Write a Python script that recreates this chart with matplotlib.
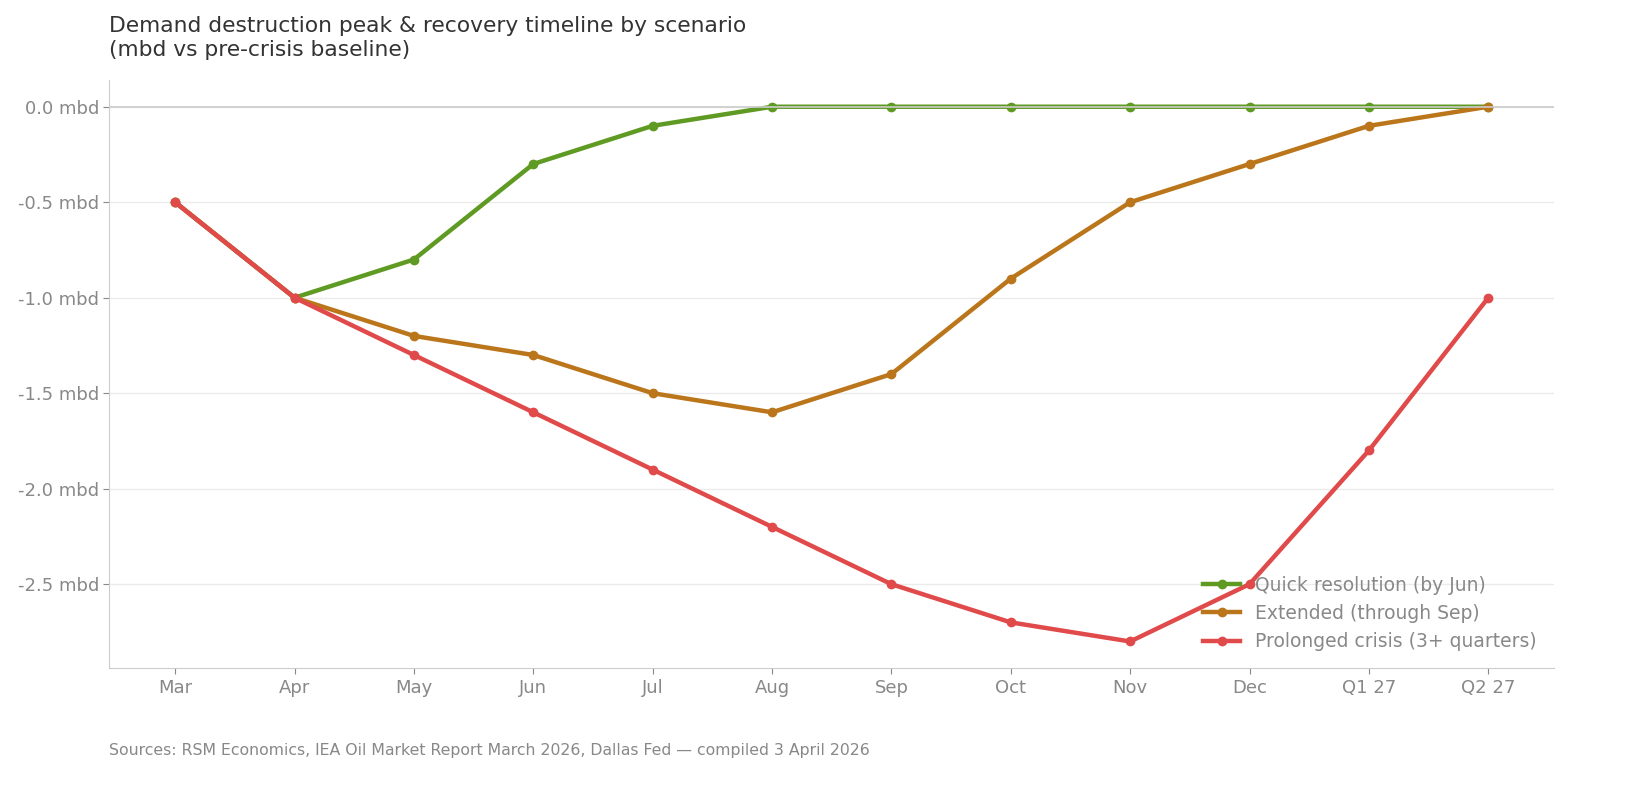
import matplotlib.pyplot as plt
import numpy as np

# Data
months = ["Mar", "Apr", "May", "Jun", "Jul", "Aug", "Sep", "Oct", "Nov", "Dec", "Q1 27", "Q2 27"]
quick = [-0.5, -1.0, -0.8, -0.3, -0.1, 0.0, 0.0, 0.0, 0.0, 0.0, 0.0, 0.0]
extended = [-0.5, -1.0, -1.2, -1.3, -1.5, -1.6, -1.4, -0.9, -0.5, -0.3, -0.1, 0.0]
prolonged = [-0.5, -1.0, -1.3, -1.6, -1.9, -2.2, -2.5, -2.7, -2.8, -2.5, -1.8, -1.0]

series = [
    ("Quick resolution (by Jun)", quick, "#5f9a23"),
    ("Extended (through Sep)", extended, "#bb751a"),
    ("Prolonged crisis (3+ quarters)", prolonged, "#e04a4a"),
]

fig, ax = plt.subplots(figsize=(16.34, 8.08), dpi=100)
fig.subplots_adjust(left=0.067, right=0.951, top=0.901, bottom=0.173)

x = np.arange(len(months))
for label, vals, col in series:
    ax.plot(x, vals, color=col, lw=3.2, marker="o", ms=6, label=label, zorder=3)

# zero baseline sits on top of the lines
ax.axhline(0, color="#cccccc", lw=1.2, zorder=4)

yt = [0, -0.5, -1.0, -1.5, -2.0, -2.5]
ax.set_xticks(x)
ax.set_xticklabels(months)
ax.set_yticks(yt)
ax.set_yticklabels([f"{v:.1f} mbd" for v in yt])
ax.grid(axis="y", color="#ebebeb", lw=1)
ax.set_axisbelow(True)

for s in ["top", "right"]:
    ax.spines[s].set_visible(False)
for s in ["left", "bottom"]:
    ax.spines[s].set_color("#cccccc")
ax.tick_params(colors="#888888", labelsize=13, length=4)

ax.set_title("Demand destruction peak & recovery timeline by scenario\n(mbd vs pre-crisis baseline)",
             loc="left", fontsize=15.7, color="#333333", pad=17, linespacing=1.25)

ax.legend(loc="lower right", frameon=False, fontsize=13.5, labelcolor="#888888",
          handlelength=2, borderaxespad=0.5)

fig.text(0.067, 0.065, "Sources: RSM Economics, IEA Oil Market Report March 2026, Dallas Fed \u2014 compiled 3 April 2026",
         fontsize=11.3, color="#888888")

fig.savefig("out.png")
